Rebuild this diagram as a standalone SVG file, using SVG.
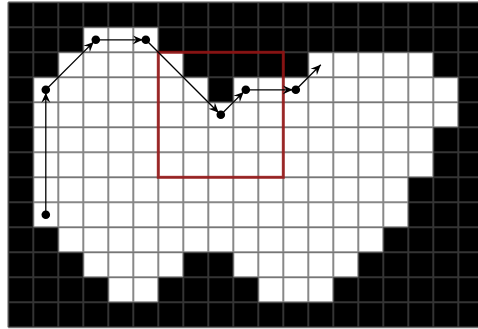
<svg xmlns="http://www.w3.org/2000/svg" width="478" height="329" viewBox="0 0 478 329">
  <defs>
    <style>
      .blk { fill: #000; }
      .wht { fill: #fff; }
      .grid { stroke: rgb(77,77,77); stroke-opacity: 0.67; stroke-width: 2; fill: none; }
      .win { fill: none; stroke: #9b0e0e; stroke-opacity: 0.8; stroke-width: 3; }
      .conn { stroke: #000; stroke-width: 1.3; fill: none; marker-end: url(#ah); }
      .dot { fill: #000; }
    </style>
    <marker id="ah" viewBox="-10 -5 11 10" refX="0" refY="0" markerWidth="11" markerHeight="10" markerUnits="userSpaceOnUse" orient="auto">
      <path d="M0,0 L-10,-4.5 L-6.5,0 L-10,4.5 Z" fill="#000"/>
    </marker>
  </defs>
  <rect x="0" y="0" width="478" height="329" fill="#fff"/>
  <g id="board" transform="translate(8.3,2.3)">
    <rect class="blk" x="0" y="0" width="480" height="325"/>
    <rect class="wht" x="75" y="25" width="75" height="25"/>
    <rect class="wht" x="50" y="50" width="125" height="25"/>
    <rect class="wht" x="300" y="50" width="125" height="25"/>
    <rect class="wht" x="25" y="75" width="175" height="25"/>
    <rect class="wht" x="225" y="75" width="225" height="25"/>
    <rect class="wht" x="25" y="100" width="425" height="25"/>
    <rect class="wht" x="25" y="125" width="400" height="50"/>
    <rect class="wht" x="25" y="175" width="375" height="50"/>
    <rect class="wht" x="50" y="225" width="325" height="25"/>
    <rect class="wht" x="75" y="250" width="100" height="25"/>
    <rect class="wht" x="225" y="250" width="125" height="25"/>
    <rect class="wht" x="100" y="275" width="50" height="25"/>
    <rect class="wht" x="250" y="275" width="75" height="25"/>
    <path class="grid" d="M0,0V325M25,0V325M50,0V325M75,0V325M100,0V325M125,0V325M150,0V325M175,0V325M200,0V325M225,0V325M250,0V325M275,0V325M300,0V325M325,0V325M350,0V325M375,0V325M400,0V325M425,0V325M450,0V325M475,0V325M0,0H480M0,25H480M0,50H480M0,75H480M0,100H480M0,125H480M0,150H480M0,175H480M0,200H480M0,225H480M0,250H480M0,275H480M0,300H480M0,325H480"/>
  </g>
  <g id="window">
    <rect class="win" x="158.3" y="52.3" width="125" height="125"/>
  </g>
  <g id="connectors">
    <line class="conn" x1="45.8" y1="214.8" x2="45.8" y2="92.8"/>
    <line class="conn" x1="45.8" y1="89.8" x2="93.7" y2="41.9"/>
    <line class="conn" x1="95.8" y1="39.8" x2="142.8" y2="39.8"/>
    <line class="conn" x1="145.8" y1="39.8" x2="218.7" y2="112.7"/>
    <line class="conn" x1="220.8" y1="114.8" x2="243.7" y2="91.9"/>
    <line class="conn" x1="245.8" y1="89.8" x2="292.8" y2="89.8"/>
    <line class="conn" x1="295.8" y1="89.8" x2="320.8" y2="64.8"/>
  </g>
  <g id="n1"><circle class="dot" cx="45.8" cy="214.8" r="4.3"/></g>
  <g id="n2"><circle class="dot" cx="45.8" cy="89.8" r="4.3"/></g>
  <g id="n3"><circle class="dot" cx="95.8" cy="39.8" r="4.3"/></g>
  <g id="n4"><circle class="dot" cx="145.8" cy="39.8" r="4.3"/></g>
  <g id="n5"><circle class="dot" cx="220.8" cy="114.8" r="4.3"/></g>
  <g id="n6"><circle class="dot" cx="245.8" cy="89.8" r="4.3"/></g>
  <g id="n7"><circle class="dot" cx="295.8" cy="89.8" r="4.3"/></g>
</svg>
